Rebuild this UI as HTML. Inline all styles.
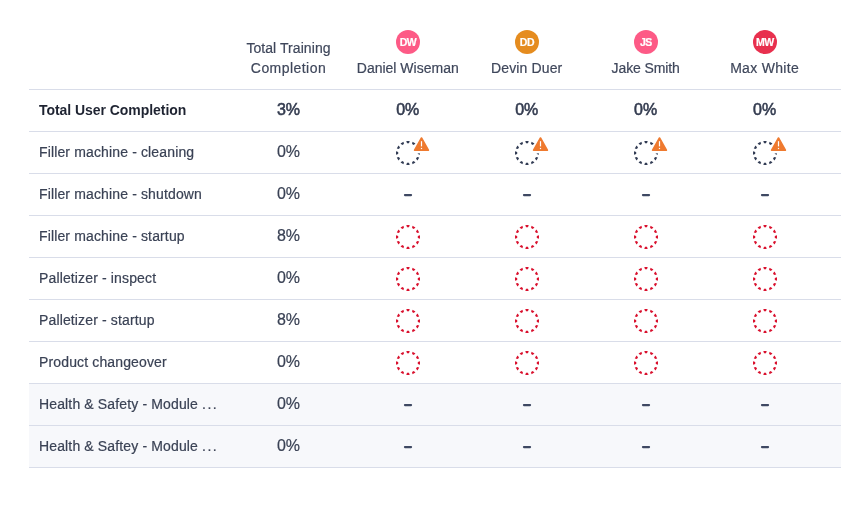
<!DOCTYPE html><html><head><meta charset="utf-8"><style>
*{margin:0;padding:0;box-sizing:border-box}
html,body{width:841px;height:511px;background:#fff;overflow:hidden}
#w{position:absolute;left:0;top:0;width:841px;height:511px;will-change:transform}
body{position:relative;font-family:"Liberation Sans",sans-serif;color:#3b4357}
.ln{position:absolute;left:29px;width:812px;height:1px;background:#d9dde9}
.bg{position:absolute;left:29px;width:812px;background:#f7f8fb}
.t{position:absolute;white-space:nowrap;line-height:20px}
.c{transform:translateX(-50%)}
.lbl{font-size:14px;color:#3a4255;letter-spacing:0.14px;-webkit-text-stroke:0.2px #3a4255}
.lblb{font-size:14px;font-weight:bold;color:#1e2331;letter-spacing:-0.05px}
.pct{font-size:16px;color:#3a4255;-webkit-text-stroke:0.2px #3a4255}
.pctb{font-size:16px;color:#343c50;-webkit-text-stroke:0.55px #343c50}
.hd{font-size:14px;color:#3f475b;text-align:center;-webkit-text-stroke:0.2px #3f475b}
.av{position:absolute;width:24px;height:24px;border-radius:50%;color:#fff;font-weight:bold;font-size:10.5px;line-height:25.5px;text-align:center;-webkit-text-stroke:0.2px #fff;letter-spacing:-0.5px;padding-left:0.5px}
.dash{position:absolute;width:8px;height:2px;background:#364059;border-radius:1px}
svg{position:absolute;overflow:visible}
.dots{letter-spacing:1.5px}
</style></head><body><div id="w">
<div class="bg" style="top:384px;height:83px"></div>
<div class="ln" style="top:89px"></div>
<div class="ln" style="top:131px"></div>
<div class="ln" style="top:173px"></div>
<div class="ln" style="top:215px"></div>
<div class="ln" style="top:257px"></div>
<div class="ln" style="top:299px"></div>
<div class="ln" style="top:341px"></div>
<div class="ln" style="top:383px"></div>
<div class="ln" style="top:425px"></div>
<div class="ln" style="top:467px"></div>
<div class="t hd c" style="left:288.5px;top:38px"><span style="letter-spacing:0.07px">Total Training</span><br><span style="letter-spacing:0.45px">Completion</span></div>
<div class="av" style="left:395.75px;top:30px;background:#fd5a86">DW</div>
<div class="t hd c" style="left:407.75px;top:58px;letter-spacing:0px">Daniel Wiseman</div>
<div class="av" style="left:514.7px;top:30px;background:#e58c1f">DD</div>
<div class="t hd c" style="left:526.7px;top:58px;letter-spacing:0.14px">Devin Duer</div>
<div class="av" style="left:633.65px;top:30px;background:#fd5a86">JS</div>
<div class="t hd c" style="left:645.65px;top:58px;letter-spacing:-0.12px">Jake Smith</div>
<div class="av" style="left:752.6px;top:30px;background:#e8304e">MW</div>
<div class="t hd c" style="left:764.6px;top:58px;letter-spacing:0.31px">Max White</div>
<div class="t lblb" style="left:39px;top:100px">Total User Completion</div>
<div class="t c pctb" style="left:288.5px;top:100px">3%</div>
<div class="t c pctb" style="left:407.75px;top:100px">0%</div>
<div class="t c pctb" style="left:526.7px;top:100px">0%</div>
<div class="t c pctb" style="left:645.65px;top:100px">0%</div>
<div class="t c pctb" style="left:764.6px;top:100px">0%</div>
<div class="t lbl" style="left:39px;top:142px">Filler machine - cleaning</div>
<div class="t c pct" style="left:288.5px;top:142px">0%</div>
<svg style="left:387.75px;top:132.75px" width="40" height="40"><path d="M32.00 21.70 L32.00 18.30 L29.80 19.00 L29.80 21.00ZM29.54 27.47 L31.24 24.53 L28.99 24.03 L27.99 25.77ZM24.53 31.24 L27.47 29.54 L25.77 27.99 L24.03 28.99ZM18.30 32.00 L21.70 32.00 L21.00 29.80 L19.00 29.80ZM12.53 29.54 L15.47 31.24 L15.97 28.99 L14.23 27.99ZM8.76 24.53 L10.46 27.47 L12.01 25.77 L11.01 24.03ZM8.00 18.30 L8.00 21.70 L10.20 21.00 L10.20 19.00ZM10.46 12.53 L8.76 15.47 L11.01 15.97 L12.01 14.23ZM15.47 8.76 L12.53 10.46 L14.23 12.01 L15.97 11.01ZM21.70 8.00 L18.30 8.00 L19.00 10.20 L21.00 10.20ZM27.47 10.46 L24.53 8.76 L24.03 11.01 L25.77 12.01ZM31.24 15.47 L29.54 12.53 L27.99 14.23 L28.99 15.97Z" fill="#323c54"/><rect x="27" y="17" width="13" height="3.4" fill="#fff"/><path d="M33.5 5.0 L 40.4 17.2 L 26.6 17.2 Z" fill="#ef7a2f" stroke="#fff" stroke-width="4" stroke-linejoin="round"/><path d="M33.5 5.0 L 40.4 17.2 L 26.6 17.2 Z" fill="#ef7a2f" stroke="#ef7a2f" stroke-width="1.6" stroke-linejoin="round"/><rect x="32.9" y="8.2" width="1.2" height="5.2" fill="#fff"/><rect x="32.9" y="14.9" width="1.2" height="1.2" fill="#fff"/></svg>
<svg style="left:506.70000000000005px;top:132.75px" width="40" height="40"><path d="M32.00 21.70 L32.00 18.30 L29.80 19.00 L29.80 21.00ZM29.54 27.47 L31.24 24.53 L28.99 24.03 L27.99 25.77ZM24.53 31.24 L27.47 29.54 L25.77 27.99 L24.03 28.99ZM18.30 32.00 L21.70 32.00 L21.00 29.80 L19.00 29.80ZM12.53 29.54 L15.47 31.24 L15.97 28.99 L14.23 27.99ZM8.76 24.53 L10.46 27.47 L12.01 25.77 L11.01 24.03ZM8.00 18.30 L8.00 21.70 L10.20 21.00 L10.20 19.00ZM10.46 12.53 L8.76 15.47 L11.01 15.97 L12.01 14.23ZM15.47 8.76 L12.53 10.46 L14.23 12.01 L15.97 11.01ZM21.70 8.00 L18.30 8.00 L19.00 10.20 L21.00 10.20ZM27.47 10.46 L24.53 8.76 L24.03 11.01 L25.77 12.01ZM31.24 15.47 L29.54 12.53 L27.99 14.23 L28.99 15.97Z" fill="#323c54"/><rect x="27" y="17" width="13" height="3.4" fill="#fff"/><path d="M33.5 5.0 L 40.4 17.2 L 26.6 17.2 Z" fill="#ef7a2f" stroke="#fff" stroke-width="4" stroke-linejoin="round"/><path d="M33.5 5.0 L 40.4 17.2 L 26.6 17.2 Z" fill="#ef7a2f" stroke="#ef7a2f" stroke-width="1.6" stroke-linejoin="round"/><rect x="32.9" y="8.2" width="1.2" height="5.2" fill="#fff"/><rect x="32.9" y="14.9" width="1.2" height="1.2" fill="#fff"/></svg>
<svg style="left:625.65px;top:132.75px" width="40" height="40"><path d="M32.00 21.70 L32.00 18.30 L29.80 19.00 L29.80 21.00ZM29.54 27.47 L31.24 24.53 L28.99 24.03 L27.99 25.77ZM24.53 31.24 L27.47 29.54 L25.77 27.99 L24.03 28.99ZM18.30 32.00 L21.70 32.00 L21.00 29.80 L19.00 29.80ZM12.53 29.54 L15.47 31.24 L15.97 28.99 L14.23 27.99ZM8.76 24.53 L10.46 27.47 L12.01 25.77 L11.01 24.03ZM8.00 18.30 L8.00 21.70 L10.20 21.00 L10.20 19.00ZM10.46 12.53 L8.76 15.47 L11.01 15.97 L12.01 14.23ZM15.47 8.76 L12.53 10.46 L14.23 12.01 L15.97 11.01ZM21.70 8.00 L18.30 8.00 L19.00 10.20 L21.00 10.20ZM27.47 10.46 L24.53 8.76 L24.03 11.01 L25.77 12.01ZM31.24 15.47 L29.54 12.53 L27.99 14.23 L28.99 15.97Z" fill="#323c54"/><rect x="27" y="17" width="13" height="3.4" fill="#fff"/><path d="M33.5 5.0 L 40.4 17.2 L 26.6 17.2 Z" fill="#ef7a2f" stroke="#fff" stroke-width="4" stroke-linejoin="round"/><path d="M33.5 5.0 L 40.4 17.2 L 26.6 17.2 Z" fill="#ef7a2f" stroke="#ef7a2f" stroke-width="1.6" stroke-linejoin="round"/><rect x="32.9" y="8.2" width="1.2" height="5.2" fill="#fff"/><rect x="32.9" y="14.9" width="1.2" height="1.2" fill="#fff"/></svg>
<svg style="left:744.6px;top:132.75px" width="40" height="40"><path d="M32.00 21.70 L32.00 18.30 L29.80 19.00 L29.80 21.00ZM29.54 27.47 L31.24 24.53 L28.99 24.03 L27.99 25.77ZM24.53 31.24 L27.47 29.54 L25.77 27.99 L24.03 28.99ZM18.30 32.00 L21.70 32.00 L21.00 29.80 L19.00 29.80ZM12.53 29.54 L15.47 31.24 L15.97 28.99 L14.23 27.99ZM8.76 24.53 L10.46 27.47 L12.01 25.77 L11.01 24.03ZM8.00 18.30 L8.00 21.70 L10.20 21.00 L10.20 19.00ZM10.46 12.53 L8.76 15.47 L11.01 15.97 L12.01 14.23ZM15.47 8.76 L12.53 10.46 L14.23 12.01 L15.97 11.01ZM21.70 8.00 L18.30 8.00 L19.00 10.20 L21.00 10.20ZM27.47 10.46 L24.53 8.76 L24.03 11.01 L25.77 12.01ZM31.24 15.47 L29.54 12.53 L27.99 14.23 L28.99 15.97Z" fill="#323c54"/><rect x="27" y="17" width="13" height="3.4" fill="#fff"/><path d="M33.5 5.0 L 40.4 17.2 L 26.6 17.2 Z" fill="#ef7a2f" stroke="#fff" stroke-width="4" stroke-linejoin="round"/><path d="M33.5 5.0 L 40.4 17.2 L 26.6 17.2 Z" fill="#ef7a2f" stroke="#ef7a2f" stroke-width="1.6" stroke-linejoin="round"/><rect x="32.9" y="8.2" width="1.2" height="5.2" fill="#fff"/><rect x="32.9" y="14.9" width="1.2" height="1.2" fill="#fff"/></svg>
<div class="t lbl" style="left:39px;top:184px">Filler machine - shutdown</div>
<div class="t c pct" style="left:288.5px;top:184px">0%</div>
<svg style="left:397.75px;top:185px" width="20" height="20"><line x1="6.9" y1="10.1" x2="13.1" y2="10.1" stroke="#3e4862" stroke-width="2.1" stroke-linecap="round"/></svg>
<svg style="left:516.7px;top:185px" width="20" height="20"><line x1="6.9" y1="10.1" x2="13.1" y2="10.1" stroke="#3e4862" stroke-width="2.1" stroke-linecap="round"/></svg>
<svg style="left:635.65px;top:185px" width="20" height="20"><line x1="6.9" y1="10.1" x2="13.1" y2="10.1" stroke="#3e4862" stroke-width="2.1" stroke-linecap="round"/></svg>
<svg style="left:754.6px;top:185px" width="20" height="20"><line x1="6.9" y1="10.1" x2="13.1" y2="10.1" stroke="#3e4862" stroke-width="2.1" stroke-linecap="round"/></svg>
<div class="t lbl" style="left:39px;top:226px">Filler machine - startup</div>
<div class="t c pct" style="left:288.5px;top:226px">8%</div>
<svg style="left:387.75px;top:216.75px" width="40" height="40"><path d="M32.00 21.70 L32.00 18.30 L29.80 19.00 L29.80 21.00ZM29.54 27.47 L31.24 24.53 L28.99 24.03 L27.99 25.77ZM24.53 31.24 L27.47 29.54 L25.77 27.99 L24.03 28.99ZM18.30 32.00 L21.70 32.00 L21.00 29.80 L19.00 29.80ZM12.53 29.54 L15.47 31.24 L15.97 28.99 L14.23 27.99ZM8.76 24.53 L10.46 27.47 L12.01 25.77 L11.01 24.03ZM8.00 18.30 L8.00 21.70 L10.20 21.00 L10.20 19.00ZM10.46 12.53 L8.76 15.47 L11.01 15.97 L12.01 14.23ZM15.47 8.76 L12.53 10.46 L14.23 12.01 L15.97 11.01ZM21.70 8.00 L18.30 8.00 L19.00 10.20 L21.00 10.20ZM27.47 10.46 L24.53 8.76 L24.03 11.01 L25.77 12.01ZM31.24 15.47 L29.54 12.53 L27.99 14.23 L28.99 15.97Z" fill="#d9112e"/></svg>
<svg style="left:506.70000000000005px;top:216.75px" width="40" height="40"><path d="M32.00 21.70 L32.00 18.30 L29.80 19.00 L29.80 21.00ZM29.54 27.47 L31.24 24.53 L28.99 24.03 L27.99 25.77ZM24.53 31.24 L27.47 29.54 L25.77 27.99 L24.03 28.99ZM18.30 32.00 L21.70 32.00 L21.00 29.80 L19.00 29.80ZM12.53 29.54 L15.47 31.24 L15.97 28.99 L14.23 27.99ZM8.76 24.53 L10.46 27.47 L12.01 25.77 L11.01 24.03ZM8.00 18.30 L8.00 21.70 L10.20 21.00 L10.20 19.00ZM10.46 12.53 L8.76 15.47 L11.01 15.97 L12.01 14.23ZM15.47 8.76 L12.53 10.46 L14.23 12.01 L15.97 11.01ZM21.70 8.00 L18.30 8.00 L19.00 10.20 L21.00 10.20ZM27.47 10.46 L24.53 8.76 L24.03 11.01 L25.77 12.01ZM31.24 15.47 L29.54 12.53 L27.99 14.23 L28.99 15.97Z" fill="#d9112e"/></svg>
<svg style="left:625.65px;top:216.75px" width="40" height="40"><path d="M32.00 21.70 L32.00 18.30 L29.80 19.00 L29.80 21.00ZM29.54 27.47 L31.24 24.53 L28.99 24.03 L27.99 25.77ZM24.53 31.24 L27.47 29.54 L25.77 27.99 L24.03 28.99ZM18.30 32.00 L21.70 32.00 L21.00 29.80 L19.00 29.80ZM12.53 29.54 L15.47 31.24 L15.97 28.99 L14.23 27.99ZM8.76 24.53 L10.46 27.47 L12.01 25.77 L11.01 24.03ZM8.00 18.30 L8.00 21.70 L10.20 21.00 L10.20 19.00ZM10.46 12.53 L8.76 15.47 L11.01 15.97 L12.01 14.23ZM15.47 8.76 L12.53 10.46 L14.23 12.01 L15.97 11.01ZM21.70 8.00 L18.30 8.00 L19.00 10.20 L21.00 10.20ZM27.47 10.46 L24.53 8.76 L24.03 11.01 L25.77 12.01ZM31.24 15.47 L29.54 12.53 L27.99 14.23 L28.99 15.97Z" fill="#d9112e"/></svg>
<svg style="left:744.6px;top:216.75px" width="40" height="40"><path d="M32.00 21.70 L32.00 18.30 L29.80 19.00 L29.80 21.00ZM29.54 27.47 L31.24 24.53 L28.99 24.03 L27.99 25.77ZM24.53 31.24 L27.47 29.54 L25.77 27.99 L24.03 28.99ZM18.30 32.00 L21.70 32.00 L21.00 29.80 L19.00 29.80ZM12.53 29.54 L15.47 31.24 L15.97 28.99 L14.23 27.99ZM8.76 24.53 L10.46 27.47 L12.01 25.77 L11.01 24.03ZM8.00 18.30 L8.00 21.70 L10.20 21.00 L10.20 19.00ZM10.46 12.53 L8.76 15.47 L11.01 15.97 L12.01 14.23ZM15.47 8.76 L12.53 10.46 L14.23 12.01 L15.97 11.01ZM21.70 8.00 L18.30 8.00 L19.00 10.20 L21.00 10.20ZM27.47 10.46 L24.53 8.76 L24.03 11.01 L25.77 12.01ZM31.24 15.47 L29.54 12.53 L27.99 14.23 L28.99 15.97Z" fill="#d9112e"/></svg>
<div class="t lbl" style="left:39px;top:268px">Palletizer - inspect</div>
<div class="t c pct" style="left:288.5px;top:268px">0%</div>
<svg style="left:387.75px;top:258.75px" width="40" height="40"><path d="M32.00 21.70 L32.00 18.30 L29.80 19.00 L29.80 21.00ZM29.54 27.47 L31.24 24.53 L28.99 24.03 L27.99 25.77ZM24.53 31.24 L27.47 29.54 L25.77 27.99 L24.03 28.99ZM18.30 32.00 L21.70 32.00 L21.00 29.80 L19.00 29.80ZM12.53 29.54 L15.47 31.24 L15.97 28.99 L14.23 27.99ZM8.76 24.53 L10.46 27.47 L12.01 25.77 L11.01 24.03ZM8.00 18.30 L8.00 21.70 L10.20 21.00 L10.20 19.00ZM10.46 12.53 L8.76 15.47 L11.01 15.97 L12.01 14.23ZM15.47 8.76 L12.53 10.46 L14.23 12.01 L15.97 11.01ZM21.70 8.00 L18.30 8.00 L19.00 10.20 L21.00 10.20ZM27.47 10.46 L24.53 8.76 L24.03 11.01 L25.77 12.01ZM31.24 15.47 L29.54 12.53 L27.99 14.23 L28.99 15.97Z" fill="#d9112e"/></svg>
<svg style="left:506.70000000000005px;top:258.75px" width="40" height="40"><path d="M32.00 21.70 L32.00 18.30 L29.80 19.00 L29.80 21.00ZM29.54 27.47 L31.24 24.53 L28.99 24.03 L27.99 25.77ZM24.53 31.24 L27.47 29.54 L25.77 27.99 L24.03 28.99ZM18.30 32.00 L21.70 32.00 L21.00 29.80 L19.00 29.80ZM12.53 29.54 L15.47 31.24 L15.97 28.99 L14.23 27.99ZM8.76 24.53 L10.46 27.47 L12.01 25.77 L11.01 24.03ZM8.00 18.30 L8.00 21.70 L10.20 21.00 L10.20 19.00ZM10.46 12.53 L8.76 15.47 L11.01 15.97 L12.01 14.23ZM15.47 8.76 L12.53 10.46 L14.23 12.01 L15.97 11.01ZM21.70 8.00 L18.30 8.00 L19.00 10.20 L21.00 10.20ZM27.47 10.46 L24.53 8.76 L24.03 11.01 L25.77 12.01ZM31.24 15.47 L29.54 12.53 L27.99 14.23 L28.99 15.97Z" fill="#d9112e"/></svg>
<svg style="left:625.65px;top:258.75px" width="40" height="40"><path d="M32.00 21.70 L32.00 18.30 L29.80 19.00 L29.80 21.00ZM29.54 27.47 L31.24 24.53 L28.99 24.03 L27.99 25.77ZM24.53 31.24 L27.47 29.54 L25.77 27.99 L24.03 28.99ZM18.30 32.00 L21.70 32.00 L21.00 29.80 L19.00 29.80ZM12.53 29.54 L15.47 31.24 L15.97 28.99 L14.23 27.99ZM8.76 24.53 L10.46 27.47 L12.01 25.77 L11.01 24.03ZM8.00 18.30 L8.00 21.70 L10.20 21.00 L10.20 19.00ZM10.46 12.53 L8.76 15.47 L11.01 15.97 L12.01 14.23ZM15.47 8.76 L12.53 10.46 L14.23 12.01 L15.97 11.01ZM21.70 8.00 L18.30 8.00 L19.00 10.20 L21.00 10.20ZM27.47 10.46 L24.53 8.76 L24.03 11.01 L25.77 12.01ZM31.24 15.47 L29.54 12.53 L27.99 14.23 L28.99 15.97Z" fill="#d9112e"/></svg>
<svg style="left:744.6px;top:258.75px" width="40" height="40"><path d="M32.00 21.70 L32.00 18.30 L29.80 19.00 L29.80 21.00ZM29.54 27.47 L31.24 24.53 L28.99 24.03 L27.99 25.77ZM24.53 31.24 L27.47 29.54 L25.77 27.99 L24.03 28.99ZM18.30 32.00 L21.70 32.00 L21.00 29.80 L19.00 29.80ZM12.53 29.54 L15.47 31.24 L15.97 28.99 L14.23 27.99ZM8.76 24.53 L10.46 27.47 L12.01 25.77 L11.01 24.03ZM8.00 18.30 L8.00 21.70 L10.20 21.00 L10.20 19.00ZM10.46 12.53 L8.76 15.47 L11.01 15.97 L12.01 14.23ZM15.47 8.76 L12.53 10.46 L14.23 12.01 L15.97 11.01ZM21.70 8.00 L18.30 8.00 L19.00 10.20 L21.00 10.20ZM27.47 10.46 L24.53 8.76 L24.03 11.01 L25.77 12.01ZM31.24 15.47 L29.54 12.53 L27.99 14.23 L28.99 15.97Z" fill="#d9112e"/></svg>
<div class="t lbl" style="left:39px;top:310px">Palletizer - startup</div>
<div class="t c pct" style="left:288.5px;top:310px">8%</div>
<svg style="left:387.75px;top:300.75px" width="40" height="40"><path d="M32.00 21.70 L32.00 18.30 L29.80 19.00 L29.80 21.00ZM29.54 27.47 L31.24 24.53 L28.99 24.03 L27.99 25.77ZM24.53 31.24 L27.47 29.54 L25.77 27.99 L24.03 28.99ZM18.30 32.00 L21.70 32.00 L21.00 29.80 L19.00 29.80ZM12.53 29.54 L15.47 31.24 L15.97 28.99 L14.23 27.99ZM8.76 24.53 L10.46 27.47 L12.01 25.77 L11.01 24.03ZM8.00 18.30 L8.00 21.70 L10.20 21.00 L10.20 19.00ZM10.46 12.53 L8.76 15.47 L11.01 15.97 L12.01 14.23ZM15.47 8.76 L12.53 10.46 L14.23 12.01 L15.97 11.01ZM21.70 8.00 L18.30 8.00 L19.00 10.20 L21.00 10.20ZM27.47 10.46 L24.53 8.76 L24.03 11.01 L25.77 12.01ZM31.24 15.47 L29.54 12.53 L27.99 14.23 L28.99 15.97Z" fill="#d9112e"/></svg>
<svg style="left:506.70000000000005px;top:300.75px" width="40" height="40"><path d="M32.00 21.70 L32.00 18.30 L29.80 19.00 L29.80 21.00ZM29.54 27.47 L31.24 24.53 L28.99 24.03 L27.99 25.77ZM24.53 31.24 L27.47 29.54 L25.77 27.99 L24.03 28.99ZM18.30 32.00 L21.70 32.00 L21.00 29.80 L19.00 29.80ZM12.53 29.54 L15.47 31.24 L15.97 28.99 L14.23 27.99ZM8.76 24.53 L10.46 27.47 L12.01 25.77 L11.01 24.03ZM8.00 18.30 L8.00 21.70 L10.20 21.00 L10.20 19.00ZM10.46 12.53 L8.76 15.47 L11.01 15.97 L12.01 14.23ZM15.47 8.76 L12.53 10.46 L14.23 12.01 L15.97 11.01ZM21.70 8.00 L18.30 8.00 L19.00 10.20 L21.00 10.20ZM27.47 10.46 L24.53 8.76 L24.03 11.01 L25.77 12.01ZM31.24 15.47 L29.54 12.53 L27.99 14.23 L28.99 15.97Z" fill="#d9112e"/></svg>
<svg style="left:625.65px;top:300.75px" width="40" height="40"><path d="M32.00 21.70 L32.00 18.30 L29.80 19.00 L29.80 21.00ZM29.54 27.47 L31.24 24.53 L28.99 24.03 L27.99 25.77ZM24.53 31.24 L27.47 29.54 L25.77 27.99 L24.03 28.99ZM18.30 32.00 L21.70 32.00 L21.00 29.80 L19.00 29.80ZM12.53 29.54 L15.47 31.24 L15.97 28.99 L14.23 27.99ZM8.76 24.53 L10.46 27.47 L12.01 25.77 L11.01 24.03ZM8.00 18.30 L8.00 21.70 L10.20 21.00 L10.20 19.00ZM10.46 12.53 L8.76 15.47 L11.01 15.97 L12.01 14.23ZM15.47 8.76 L12.53 10.46 L14.23 12.01 L15.97 11.01ZM21.70 8.00 L18.30 8.00 L19.00 10.20 L21.00 10.20ZM27.47 10.46 L24.53 8.76 L24.03 11.01 L25.77 12.01ZM31.24 15.47 L29.54 12.53 L27.99 14.23 L28.99 15.97Z" fill="#d9112e"/></svg>
<svg style="left:744.6px;top:300.75px" width="40" height="40"><path d="M32.00 21.70 L32.00 18.30 L29.80 19.00 L29.80 21.00ZM29.54 27.47 L31.24 24.53 L28.99 24.03 L27.99 25.77ZM24.53 31.24 L27.47 29.54 L25.77 27.99 L24.03 28.99ZM18.30 32.00 L21.70 32.00 L21.00 29.80 L19.00 29.80ZM12.53 29.54 L15.47 31.24 L15.97 28.99 L14.23 27.99ZM8.76 24.53 L10.46 27.47 L12.01 25.77 L11.01 24.03ZM8.00 18.30 L8.00 21.70 L10.20 21.00 L10.20 19.00ZM10.46 12.53 L8.76 15.47 L11.01 15.97 L12.01 14.23ZM15.47 8.76 L12.53 10.46 L14.23 12.01 L15.97 11.01ZM21.70 8.00 L18.30 8.00 L19.00 10.20 L21.00 10.20ZM27.47 10.46 L24.53 8.76 L24.03 11.01 L25.77 12.01ZM31.24 15.47 L29.54 12.53 L27.99 14.23 L28.99 15.97Z" fill="#d9112e"/></svg>
<div class="t lbl" style="left:39px;top:352px">Product changeover</div>
<div class="t c pct" style="left:288.5px;top:352px">0%</div>
<svg style="left:387.75px;top:342.75px" width="40" height="40"><path d="M32.00 21.70 L32.00 18.30 L29.80 19.00 L29.80 21.00ZM29.54 27.47 L31.24 24.53 L28.99 24.03 L27.99 25.77ZM24.53 31.24 L27.47 29.54 L25.77 27.99 L24.03 28.99ZM18.30 32.00 L21.70 32.00 L21.00 29.80 L19.00 29.80ZM12.53 29.54 L15.47 31.24 L15.97 28.99 L14.23 27.99ZM8.76 24.53 L10.46 27.47 L12.01 25.77 L11.01 24.03ZM8.00 18.30 L8.00 21.70 L10.20 21.00 L10.20 19.00ZM10.46 12.53 L8.76 15.47 L11.01 15.97 L12.01 14.23ZM15.47 8.76 L12.53 10.46 L14.23 12.01 L15.97 11.01ZM21.70 8.00 L18.30 8.00 L19.00 10.20 L21.00 10.20ZM27.47 10.46 L24.53 8.76 L24.03 11.01 L25.77 12.01ZM31.24 15.47 L29.54 12.53 L27.99 14.23 L28.99 15.97Z" fill="#d9112e"/></svg>
<svg style="left:506.70000000000005px;top:342.75px" width="40" height="40"><path d="M32.00 21.70 L32.00 18.30 L29.80 19.00 L29.80 21.00ZM29.54 27.47 L31.24 24.53 L28.99 24.03 L27.99 25.77ZM24.53 31.24 L27.47 29.54 L25.77 27.99 L24.03 28.99ZM18.30 32.00 L21.70 32.00 L21.00 29.80 L19.00 29.80ZM12.53 29.54 L15.47 31.24 L15.97 28.99 L14.23 27.99ZM8.76 24.53 L10.46 27.47 L12.01 25.77 L11.01 24.03ZM8.00 18.30 L8.00 21.70 L10.20 21.00 L10.20 19.00ZM10.46 12.53 L8.76 15.47 L11.01 15.97 L12.01 14.23ZM15.47 8.76 L12.53 10.46 L14.23 12.01 L15.97 11.01ZM21.70 8.00 L18.30 8.00 L19.00 10.20 L21.00 10.20ZM27.47 10.46 L24.53 8.76 L24.03 11.01 L25.77 12.01ZM31.24 15.47 L29.54 12.53 L27.99 14.23 L28.99 15.97Z" fill="#d9112e"/></svg>
<svg style="left:625.65px;top:342.75px" width="40" height="40"><path d="M32.00 21.70 L32.00 18.30 L29.80 19.00 L29.80 21.00ZM29.54 27.47 L31.24 24.53 L28.99 24.03 L27.99 25.77ZM24.53 31.24 L27.47 29.54 L25.77 27.99 L24.03 28.99ZM18.30 32.00 L21.70 32.00 L21.00 29.80 L19.00 29.80ZM12.53 29.54 L15.47 31.24 L15.97 28.99 L14.23 27.99ZM8.76 24.53 L10.46 27.47 L12.01 25.77 L11.01 24.03ZM8.00 18.30 L8.00 21.70 L10.20 21.00 L10.20 19.00ZM10.46 12.53 L8.76 15.47 L11.01 15.97 L12.01 14.23ZM15.47 8.76 L12.53 10.46 L14.23 12.01 L15.97 11.01ZM21.70 8.00 L18.30 8.00 L19.00 10.20 L21.00 10.20ZM27.47 10.46 L24.53 8.76 L24.03 11.01 L25.77 12.01ZM31.24 15.47 L29.54 12.53 L27.99 14.23 L28.99 15.97Z" fill="#d9112e"/></svg>
<svg style="left:744.6px;top:342.75px" width="40" height="40"><path d="M32.00 21.70 L32.00 18.30 L29.80 19.00 L29.80 21.00ZM29.54 27.47 L31.24 24.53 L28.99 24.03 L27.99 25.77ZM24.53 31.24 L27.47 29.54 L25.77 27.99 L24.03 28.99ZM18.30 32.00 L21.70 32.00 L21.00 29.80 L19.00 29.80ZM12.53 29.54 L15.47 31.24 L15.97 28.99 L14.23 27.99ZM8.76 24.53 L10.46 27.47 L12.01 25.77 L11.01 24.03ZM8.00 18.30 L8.00 21.70 L10.20 21.00 L10.20 19.00ZM10.46 12.53 L8.76 15.47 L11.01 15.97 L12.01 14.23ZM15.47 8.76 L12.53 10.46 L14.23 12.01 L15.97 11.01ZM21.70 8.00 L18.30 8.00 L19.00 10.20 L21.00 10.20ZM27.47 10.46 L24.53 8.76 L24.03 11.01 L25.77 12.01ZM31.24 15.47 L29.54 12.53 L27.99 14.23 L28.99 15.97Z" fill="#d9112e"/></svg>
<div class="t lbl" style="left:39px;top:394px">Health &amp; Safety - Module <span class=dots>...</span></div>
<div class="t c pct" style="left:288.5px;top:394px">0%</div>
<svg style="left:397.75px;top:395px" width="20" height="20"><line x1="6.9" y1="10.1" x2="13.1" y2="10.1" stroke="#3e4862" stroke-width="2.1" stroke-linecap="round"/></svg>
<svg style="left:516.7px;top:395px" width="20" height="20"><line x1="6.9" y1="10.1" x2="13.1" y2="10.1" stroke="#3e4862" stroke-width="2.1" stroke-linecap="round"/></svg>
<svg style="left:635.65px;top:395px" width="20" height="20"><line x1="6.9" y1="10.1" x2="13.1" y2="10.1" stroke="#3e4862" stroke-width="2.1" stroke-linecap="round"/></svg>
<svg style="left:754.6px;top:395px" width="20" height="20"><line x1="6.9" y1="10.1" x2="13.1" y2="10.1" stroke="#3e4862" stroke-width="2.1" stroke-linecap="round"/></svg>
<div class="t lbl" style="left:39px;top:436px">Health &amp; Saftey - Module <span class=dots>...</span></div>
<div class="t c pct" style="left:288.5px;top:436px">0%</div>
<svg style="left:397.75px;top:437px" width="20" height="20"><line x1="6.9" y1="10.1" x2="13.1" y2="10.1" stroke="#3e4862" stroke-width="2.1" stroke-linecap="round"/></svg>
<svg style="left:516.7px;top:437px" width="20" height="20"><line x1="6.9" y1="10.1" x2="13.1" y2="10.1" stroke="#3e4862" stroke-width="2.1" stroke-linecap="round"/></svg>
<svg style="left:635.65px;top:437px" width="20" height="20"><line x1="6.9" y1="10.1" x2="13.1" y2="10.1" stroke="#3e4862" stroke-width="2.1" stroke-linecap="round"/></svg>
<svg style="left:754.6px;top:437px" width="20" height="20"><line x1="6.9" y1="10.1" x2="13.1" y2="10.1" stroke="#3e4862" stroke-width="2.1" stroke-linecap="round"/></svg>
</div></body></html>
